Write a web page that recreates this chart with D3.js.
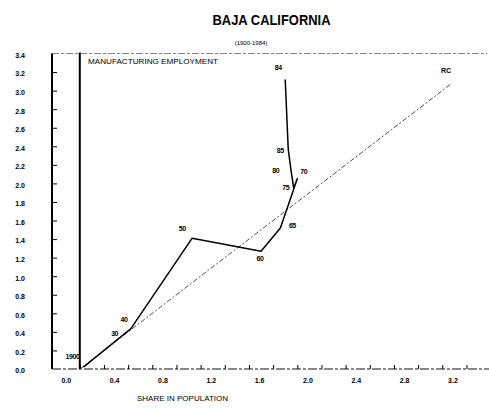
<!DOCTYPE html>
<html><head><meta charset="utf-8">
<script src="https://cdn.jsdelivr.net/npm/d3@7"></script>
<style>body{margin:0;background:#fff}svg{display:block}</style>
</head><body>
<svg id="c" width="489" height="409"></svg>
<script>
const title = "BAJA CALIFORNIA";
const subtitle = "(1900-1984)";
const yTitle = "MANUFACTURING EMPLOYMENT";
const xTitle = "SHARE IN POPULATION";
const years = ["1900","30","40","50","60","65","70","75","80","85","84"];
const popShare = [0.03,0.40,0.42,0.93,1.50,1.66,1.80,1.77,1.745,1.725,1.70];
const mfgShare = [0.02,0.41,0.43,1.41,1.27,1.52,2.05,1.95,2.17,2.37,3.12];
const diagX = [0.0,3.08];
const diagLabel = "RC";
const yTicks = [0,0.2,0.4,0.6,0.8,1.0,1.2,1.4,1.6,1.8,2.0,2.2,2.4,2.6,2.8,3.0,3.2,3.4];
const xTicks = [0,0.2,0.4,0.6,0.8,1.0,1.2,1.4,1.6,1.8,2.0,2.2,2.4,2.6,2.8,3.0,3.2];
const xLabelTicks = [0,0.4,0.8,1.2,1.6,2.0,2.4,2.8,3.2];

// label offsets (layout only)
const labelOff = [[-4,-8,"end"],[-10,5,"end"],[-3,-7,"end"],[-10,-7,"middle"],[-1,10,"middle"],[12,0,"middle"],[3,-5,"start"],[-8,2,"middle"],[-15,5,"middle"],[-8,4,"middle"],[-7,-9,"middle"]];

const svg = d3.select("#c");
const x = d3.scaleLinear().domain([-0.23,3.37]).range([52,487]);
const y = d3.scaleLinear().domain([0,3.4]).range([369,53.5]);
const F = "'Liberation Sans', Arial, sans-serif";

svg.append("text").attr("x",271.5).attr("y",25).attr("text-anchor","middle")
  .attr("font-family",F).attr("font-weight","bold").attr("font-size",14)
  .attr("textLength",118).attr("lengthAdjust","spacingAndGlyphs").text(title);
svg.append("text").attr("x",251).attr("y",45).attr("text-anchor","middle")
  .attr("font-family",F).attr("font-size",6).text(subtitle);

// frame
svg.append("line").attr("x1",52).attr("x2",487).attr("y1",y(3.4)).attr("y2",y(3.4))
  .attr("stroke","#666").attr("stroke-width",0.8).attr("stroke-dasharray","7,2,3,2");
svg.append("line").attr("x1",52).attr("x2",489).attr("y1",y(0)).attr("y2",y(0))
  .attr("stroke","#111").attr("stroke-width",1.2).attr("stroke-dasharray","9,2,3,2");
svg.append("line").attr("x1",52).attr("x2",52).attr("y1",y(3.4)).attr("y2",y(0))
  .attr("stroke","#000").attr("stroke-width",2);
svg.append("line").attr("x1",x(0)).attr("x2",x(0)).attr("y1",y(3.4)-1).attr("y2",y(0))
  .attr("stroke","#000").attr("stroke-width",2);

// y axis
const ya = svg.append("g").attr("transform","translate(52,0)")
  .call(d3.axisLeft(y).tickValues(yTicks).tickSize(-5).tickPadding(27).tickFormat(d3.format(".1f")));
ya.select(".domain").remove();
ya.selectAll("line").attr("stroke","#000").attr("stroke-width",1);
ya.selectAll("text").attr("font-family",F).attr("font-size",7).attr("font-weight","bold").attr("dy","0.55em").attr("fill","#000");
ya.selectAll(".tick").filter(d=>d===0||d===3.4).select("line").remove();

// x axis
const xa = svg.append("g").attr("transform",`translate(0,${y(0)})`)
  .call(d3.axisBottom(x).tickValues(xTicks).tickSize(-4).tickPadding(9)
    .tickFormat(d=>xLabelTicks.some(v=>Math.abs(v-d)<1e-9)?d3.format(".1f")(d):""));
xa.select(".domain").remove();
xa.selectAll("line").attr("stroke","#000").attr("stroke-width",1);
xa.selectAll("text").attr("font-family",F).attr("font-size",7).attr("font-weight","bold").attr("dx",-14).attr("fill","#000");

svg.append("text").attr("x",88).attr("y",64).attr("font-family",F).attr("font-size",7.5)
  .attr("textLength",130).attr("lengthAdjust","spacingAndGlyphs").text(yTitle);
svg.append("text").attr("x",137).attr("y",401).attr("font-family",F).attr("font-size",7)
  .attr("textLength",91).attr("lengthAdjust","spacingAndGlyphs").text(xTitle);

// diagonal
svg.append("line").attr("x1",x(diagX[0])).attr("y1",y(diagX[0])).attr("x2",x(diagX[1])).attr("y2",y(diagX[1]))
  .attr("stroke","#222").attr("stroke-width",0.8).attr("stroke-dasharray","5,2,2,2");
svg.append("text").attr("x",x(diagX[1])-6).attr("y",y(diagX[1])-10).attr("text-anchor","middle")
  .attr("font-family",F).attr("font-size",7).attr("font-weight","bold").text(diagLabel);

// path
const pts = years.map((yr,i)=>({yr,px:popShare[i],my:mfgShare[i],off:labelOff[i]}));
svg.append("path").datum(pts)
  .attr("d",d3.line().x(d=>x(d.px)).y(d=>y(d.my)))
  .attr("fill","none").attr("stroke","#000").attr("stroke-width",1.5).attr("stroke-linejoin","round");
svg.selectAll(".lbl").data(pts).join("text")
  .attr("x",d=>x(d.px)+d.off[0]).attr("y",d=>y(d.my)+d.off[1]).attr("text-anchor",d=>d.off[2])
  .attr("font-family",F).attr("font-size",7).attr("font-weight","bold").attr("fill","#000")
  .attr("letter-spacing",-0.4).text(d=>d.yr);
</script>
</body></html>
